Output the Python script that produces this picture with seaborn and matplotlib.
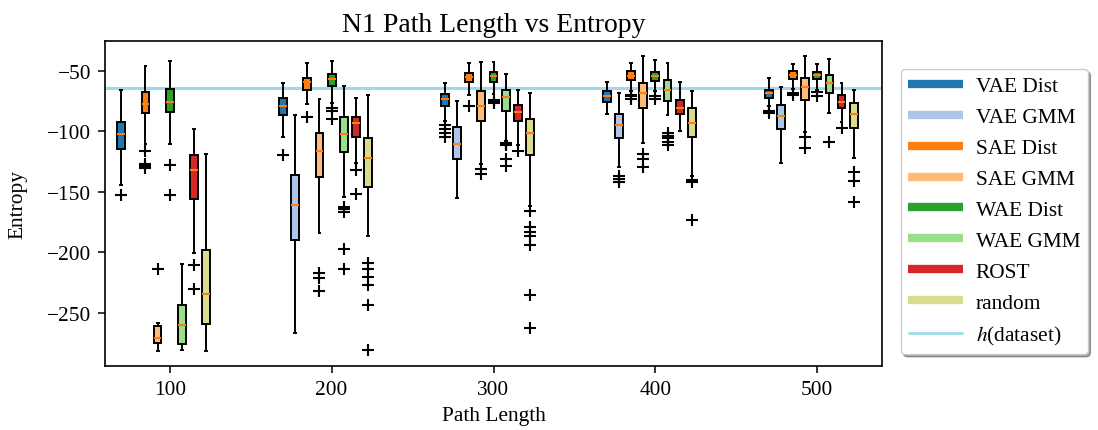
import numpy as np
import pandas as pd
import matplotlib
matplotlib.use("Agg")
import matplotlib.pyplot as plt
from matplotlib.lines import Line2D
import seaborn as sns

# ---------------- data ----------------
PATH_LENGTHS = [100, 200, 300, 400, 500]
METHODS = ["VAE Dist", "VAE GMM", "SAE Dist", "SAE GMM",
           "WAE Dist", "WAE GMM", "ROST", "random"]
COLORS = ["#1f77b4", "#aec7e8", "#ff7f0e", "#ffbb78",
          "#2ca02c", "#98df8a", "#d62728", "#dbdb8d"]
H_DATASET = -64.3

# five-number summaries per path length: (lower whisker, Q1, median, Q3, upper whisker)
VAE_DIST = [(-144.1, -114.9, -101.9, -92.2, -65.8), (-105.0, -86.5, -79.3, -72.7, -60.5),
            (-91.4, -79.3, -73.5, -69.3, -60.5), (-85.9, -75.7, -71.0, -66.6, -59.4),
            (-79.0, -72.9, -68.8, -66.0, -56.0)]
VAE_DIST_FLIERS = [[-152.4], [-119.9], [-95.0, -98.0, -101.5, -105.0], [], [-83.5, -85.0]]

VAE_GMM = [None, (-266.7, -190.0, -161.0, -136.4, -86.2),
           (-155.5, -123.2, -110.5, -96.7, -74.6), (-129.5, -105.8, -95.0, -85.9, -68.5),
           (-126.5, -98.3, -87.8, -78.2, -63.3)]
VAE_GMM_FLIERS = [[], [], [], [-137.0, -139.5, -142.0], []]

SAE_DIST = [(-110.5, -85.1, -77.1, -67.4, -46.4), (-77.1, -65.8, -59.7, -55.8, -44.0),
            (-69.9, -59.1, -55.5, -51.7, -43.7), (-67.1, -58.0, -54.2, -50.3, -44.0),
            (-65.2, -56.9, -53.3, -50.0, -44.5)]
SAE_DIST_FLIERS = [[-116.3, -127.3, -128.7, -130.1], [-88.4], [-79.0],
                   [-70.0, -71.0, -73.5], [-68.0, -70.0]]

SAE_GMM = [(-281.3, -275.0, -270.8, -261.2, -258.4), (-184.2, -137.8, -116.3, -101.4, -73.5),
           (-127.5, -91.4, -79.0, -67.1, -42.6), (-110.0, -80.4, -68.0, -60.2, -37.6),
           (-100.5, -74.0, -63.8, -55.8, -37.6)]
SAE_GMM_FLIERS = [[-213.7], [-217.0, -221.4, -232.5], [-131.4, -135.0],
                  [-119.0, -123.2, -129.5], [-104.4, -113.5]]

WAE_DIST = [(-110.7, -84.5, -76.0, -65.2, -42.0), (-77.0, -62.4, -56.9, -52.5, -42.0),
            (-69.6, -59.7, -54.2, -50.8, -42.6), (-66.6, -58.6, -54.2, -50.8, -41.5),
            (-65.8, -56.9, -53.6, -50.8, -44.5)]
WAE_DIST_FLIERS = [[-127.9, -152.4], [-80.5, -83.5, -90.3], [-74.0, -75.5, -76.5],
                   [-71.0, -73.0], [-67.4, -70.7]]

WAE_GMM = [(-280.5, -275.5, -260.3, -243.8, -209.8), (-154.3, -117.4, -101.9, -88.4, -62.7),
           (-108.0, -83.1, -72.1, -66.0, -52.5), (-86.5, -74.9, -66.0, -57.5, -44.0),
           (-85.3, -68.2, -60.2, -53.6, -40.4)]
WAE_GMM_FLIERS = [[], [-162.6, -164.6, -166.5, -197.1, -213.7],
                  [-109.5, -110.5, -111.5, -123.2, -128.7],
                  [-101.5, -104.0, -106.0, -108.5, -111.0], [-108.8]]

ROST = [(-200.4, -155.7, -132.0, -119.6, -97.8), (-126.5, -105.0, -93.4, -88.1, -72.7),
        (-111.0, -91.4, -84.5, -78.2, -66.0), (-99.7, -85.9, -80.4, -74.3, -59.1),
        (-92.2, -80.4, -76.2, -69.9, -60.5)]
ROST_FLIERS = [[-210.9, -230.8], [-132.3, -152.1], [-116.3], [], [-97.0]]

RANDOM = [(-281.9, -259.2, -234.7, -198.5, -118.7), (-186.6, -146.3, -122.1, -105.8, -69.9),
          (-161.8, -119.6, -101.6, -89.5, -68.2), (-137.0, -104.4, -92.8, -80.7, -67.1),
          (-122.3, -97.0, -85.9, -76.8, -65.8)]
RANDOM_FLIERS = [[],
                 [-209.3, -213.5, -220.3, -227.5, -243.8, -280.5],
                 [-166.0, -179.0, -183.0, -187.0, -194.1, -235.8, -262.8],
                 [-140.5, -142.0, -173.7],
                 [-133.6, -141.0, -158.5]]

SUMMARIES = [VAE_DIST, VAE_GMM, SAE_DIST, SAE_GMM, WAE_DIST, WAE_GMM, ROST, RANDOM]
FLIERS = [VAE_DIST_FLIERS, VAE_GMM_FLIERS, SAE_DIST_FLIERS, SAE_GMM_FLIERS,
          WAE_DIST_FLIERS, WAE_GMM_FLIERS, ROST_FLIERS, RANDOM_FLIERS]


def sample_from_summary(summary, fliers, reps=30):
    """Build a sample whose box statistics equal the read five-number summary."""
    lo, q1, med, q3, hi = summary
    return list(fliers) + [lo] + [q1] * reps + [med] * reps + [q3] * reps + [hi]


rows = []
for method, summ, fl in zip(METHODS, SUMMARIES, FLIERS):
    for L, s, f in zip(PATH_LENGTHS, summ, fl):
        if s is None:
            continue
        for v in sample_from_summary(s, f):
            rows.append((L, method, v))
df = pd.DataFrame(rows, columns=["Path Length", "Method", "Entropy"])

# ---------------- style ----------------
sns.set_style("ticks")
plt.rcParams["font.family"] = ["Liberation Serif", "DejaVu Serif"]
plt.rcParams["mathtext.fontset"] = "stix"
plt.rcParams["axes.unicode_minus"] = True
plt.rcParams["lines.solid_capstyle"] = "butt"
for key in ["text.color", "axes.labelcolor", "xtick.color", "ytick.color", "axes.edgecolor"]:
    plt.rcParams[key] = "black"

fig = plt.figure(figsize=(10.98, 4.31), dpi=100)
ax = fig.add_axes([105 / 1098, 1 - 367 / 431, (882 - 105) / 1098, (367 - 42) / 431])

PAD = " "  # empty slot so that each group sits like the original
palette = dict(zip(METHODS, COLORS))
palette[PAD] = "white"

sns.boxplot(data=df, x="Path Length", y="Entropy", hue="Method",
            hue_order=METHODS + [PAD], palette=palette, native_scale=True,
            width=0.675, gap=0.36, saturation=1, linecolor="black", linewidth=1.4,
            fliersize=9,
            flierprops=dict(marker="+", markeredgecolor="black", markeredgewidth=1.5),
            medianprops=dict(color="#ff7f0e", linewidth=1.5),
            legend=False, ax=ax)

ax.axhline(H_DATASET, color="#9edae5", linewidth=2.2, zorder=0.5)

ax.set_xlim(60, 540)
ax.set_ylim(-294.1, -25.4)
ax.set_xticks(PATH_LENGTHS)
ax.set_xticklabels([str(p) for p in PATH_LENGTHS])
ax.tick_params(axis="both", labelsize=15.4, direction="out", length=5, width=1.1,
               colors="black", pad=5)
for sp in ax.spines.values():
    sp.set_visible(True)
    sp.set_linewidth(1.2)
    sp.set_color("black")

ax.set_xlabel("Path Length", fontsize=15.4, labelpad=5)
ax.set_ylabel("Entropy", fontsize=15.4, labelpad=14)
ax.set_title("N1 Path Length vs Entropy", fontsize=20, pad=7)

handles = [Line2D([0], [0], color=c, lw=6, solid_capstyle="butt") for c in COLORS]
handles.append(Line2D([0], [0], color="#9edae5", lw=2, solid_capstyle="butt"))
labels = METHODS + [r"$h$(dataset)"]
leg = ax.legend(handles, labels, loc="upper left", bbox_to_anchor=(1.024, 0.914),
                borderaxespad=0, fontsize=15.4, frameon=True, shadow=True, fancybox=True,
                handlelength=2.55, handletextpad=0.6, labelspacing=0.51, borderpad=0.35)
leg.get_frame().set_edgecolor("#cccccc")

fig.savefig("out.png", dpi=100)
